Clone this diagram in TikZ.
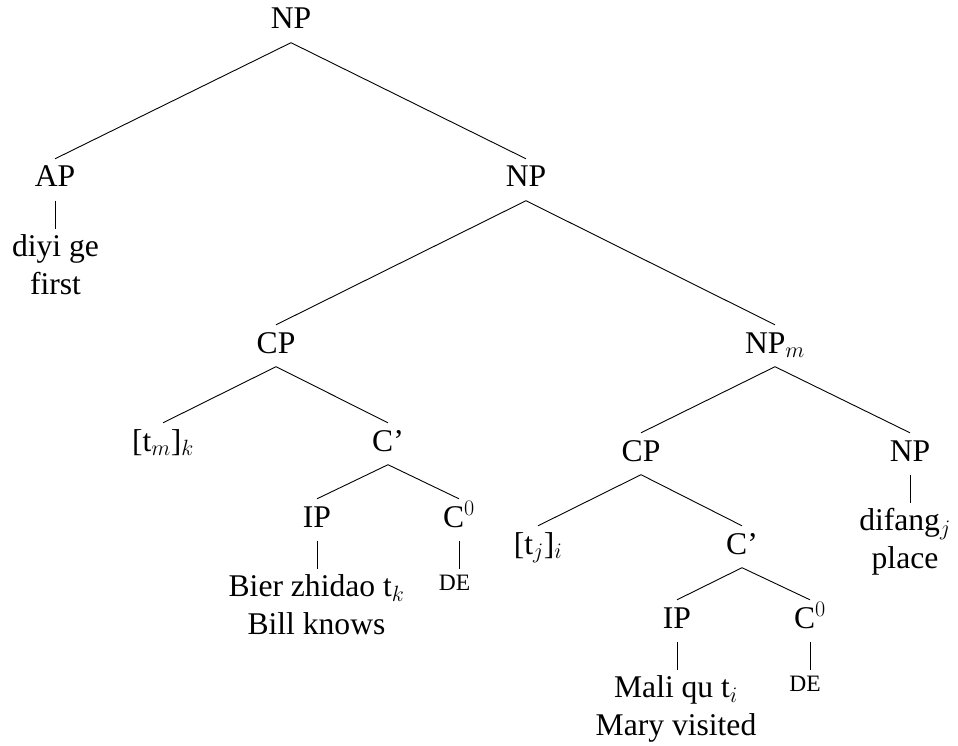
\RequirePackage{fix-cm}
\documentclass[tikz,border=0pt]{standalone}
\usepackage{fontspec}
\setmainfont{Liberation Serif}
\begin{document}
\begin{tikzpicture}[x=1pt,y=-1pt,
  every node/.style={font=\fontsize{31.6}{38}\selectfont},
  cat/.style={anchor=base,inner sep=0pt,text height=28pt,text depth=13.5pt},
  leaf/.style={anchor=north,inner xsep=0pt,inner ysep=5.5pt,align=center},
  small/.style={anchor=north,inner xsep=0pt,inner ysep=6pt,font=\fontsize{23.5}{28}\selectfont},
  edge/.style={draw=black,line width=0.9pt}]
\useasboundingbox (0,0) rectangle (958,746);
% categories
\node[cat] (r)   at (291,29)  {NP};
\node[cat] (ap)  at (55,187)  {AP};
\node[cat] (np2) at (526,187) {NP};
\node[cat] (cp1) at (276,353) {CP};
\node[cat] (npm) at (775,353) {NP$_m$};
\node[cat] (tm)  at (163,451) {[t$_m$]$_k$};
\node[cat] (c1)  at (388,451) {C'};
\node[cat] (ip1) at (317,527) {IP};
\node[cat] (c01) at (459,527) {C$^0$};
\node[cat] (cp2) at (641,461) {CP};
\node[cat] (np3) at (910,461) {NP};
\node[cat] (tj)  at (538,554) {[t$_j$]$_i$};
\node[cat] (c2)  at (742,554) {C'};
\node[cat] (ip2) at (677,628) {IP};
\node[cat] (c02) at (810,628) {C$^0$};
% leaves
\node[leaf] (l1) at (55.5,229) {diyi ge\\first};
\node[leaf] (l2) at (316.5,569) {Bier zhidao t$_k$\\Bill knows};
\node[small] (de1) at (454.5,569) {DE};
\node[leaf] (l3) at (905,503) {difang$_j$\\place};
\node[leaf] (l4) at (676,670) {Mali qu t$_i$\\Mary visited};
\node[small] (de2) at (805,670) {DE};
% edges
\path[edge] (r.south) -- (ap.north);
\path[edge] (r.south) -- (np2.north);
\path[edge] (ap.south) -- (ap.south |- l1.north);
\path[edge] (np2.south) -- (cp1.north);
\path[edge] (np2.south) -- (npm.north);
\path[edge] (cp1.south) -- (tm.north);
\path[edge] (cp1.south) -- (c1.north);
\path[edge] (c1.south) -- (ip1.north);
\path[edge] (c1.south) -- (c01.north);
\path[edge] (ip1.south) -- (ip1.south |- l2.north);
\path[edge] (c01.south) -- (c01.south |- de1.north);
\path[edge] (npm.south) -- (cp2.north);
\path[edge] (npm.south) -- (np3.north);
\path[edge] (np3.south) -- (np3.south |- l3.north);
\path[edge] (cp2.south) -- (tj.north);
\path[edge] (cp2.south) -- (c2.north);
\path[edge] (c2.south) -- (ip2.north);
\path[edge] (c2.south) -- (c02.north);
\path[edge] (ip2.south) -- (ip2.south |- l4.north);
\path[edge] (c02.south) -- (c02.south |- de2.north);
\end{tikzpicture}
\end{document}
